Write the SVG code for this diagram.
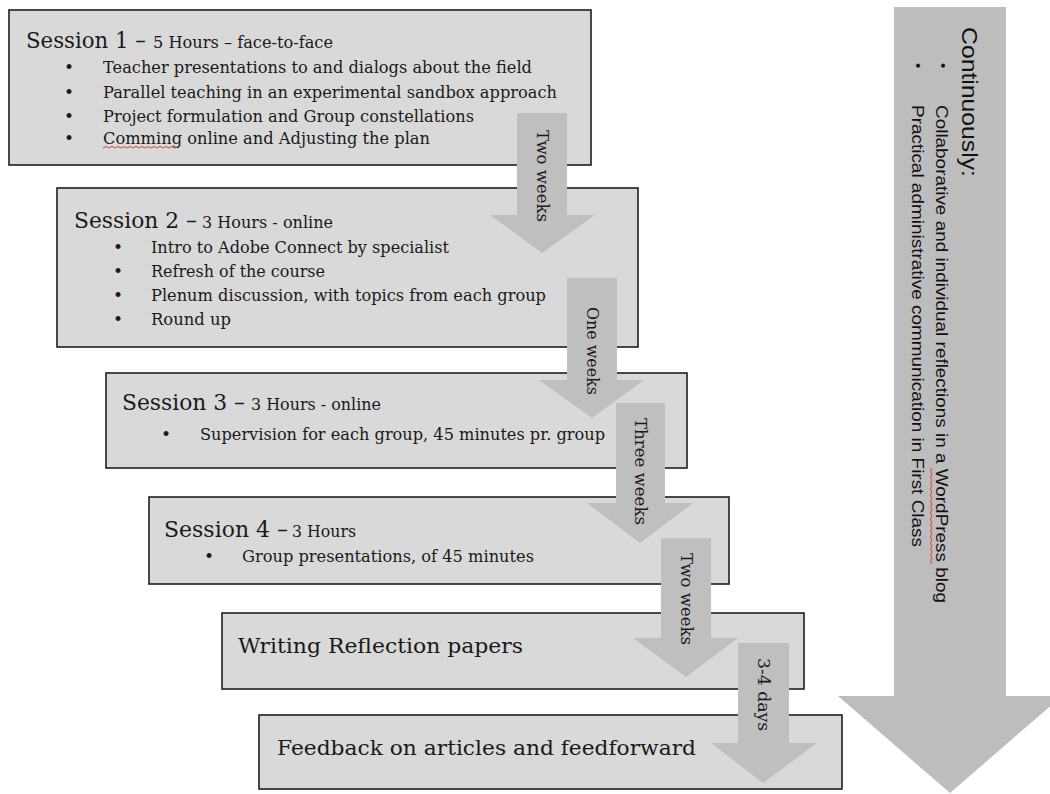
<svg xmlns="http://www.w3.org/2000/svg" width="1050" height="794" viewBox="0 0 1050 794">
<style>
.box{fill:#d9d9d9;stroke:#1f1f1f;stroke-width:1.6}
.arr{fill:#bfbfbf}
.big{fill:#bdbdbd}
.t{font-family:"DejaVu Serif","Liberation Serif",serif;fill:#1a1a1a}
.h1{font-size:23px}
.h2{font-size:17px}
.b{font-size:17px}
.m{font-size:21px}
.lab{font-family:"DejaVu Serif","Liberation Serif",serif;font-size:17px;fill:#1a1a1a}
.s{font-family:"Liberation Sans",Arial,sans-serif;fill:#111}
.sq{fill:none;stroke:#e03030;stroke-width:0.9}
</style>
<rect width="1050" height="794" fill="#ffffff"/>

<g id="continuously">
<polygon class="big" points="894,7 1006,7 1006,696 1062,696 950,793 838,696 894,696"/>
<text class="s" font-size="22" transform="translate(962,27) rotate(90)" textLength="150" lengthAdjust="spacingAndGlyphs">Continuously:</text>
<text class="s" font-size="15" transform="translate(938,63) rotate(90)">•</text>
<text class="s" font-size="15" transform="translate(913,63) rotate(90)">•</text>
<text class="s" font-size="16" transform="translate(936,105) rotate(90)" textLength="498" lengthAdjust="spacingAndGlyphs">Collaborative and individual reflections in a WordPress blog</text>
<text class="s" font-size="16" transform="translate(912,105) rotate(90)" textLength="442" lengthAdjust="spacingAndGlyphs">Practical administrative communication in First Class</text>
<path class="sq" d="M932,468 l-1.5,3 l1.5,3 l-1.5,3 l1.5,3 l-1.5,3 l1.5,3 l-1.5,3 l1.5,3 l-1.5,3 l1.5,3 l-1.5,3 l1.5,3 l-1.5,3 l1.5,3 l-1.5,3 l1.5,3 l-1.5,3 l1.5,3 l-1.5,3 l1.5,3 l-1.5,3 l1.5,3 l-1.5,3 l1.5,3 l-1.5,3 l1.5,3 l-1.5,3 l1.5,3 l-1.5,3 l1.5,3 l-1.5,3 l1.5,3"/>
</g>

<g id="session1">
<rect class="box" x="9" y="10" width="582" height="155"/>
<text class="t h1" x="26" y="48" textLength="120" lengthAdjust="spacingAndGlyphs">Session 1 –</text>
<text class="t h2" x="153" y="48" textLength="180" lengthAdjust="spacingAndGlyphs">5 Hours – face-to-face</text>
<text class="t b" x="64" y="73">•</text>
<text class="t b" x="64" y="98">•</text>
<text class="t b" x="64" y="122">•</text>
<text class="t b" x="64" y="144">•</text>
<text class="t b" x="103" y="73" textLength="429" lengthAdjust="spacingAndGlyphs">Teacher presentations to and dialogs about the field</text>
<text class="t b" x="103" y="98" textLength="454" lengthAdjust="spacingAndGlyphs">Parallel teaching in an experimental sandbox approach</text>
<text class="t b" x="103" y="122" textLength="371" lengthAdjust="spacingAndGlyphs">Project formulation and Group constellations</text>
<text class="t b" x="103" y="144" textLength="327" lengthAdjust="spacingAndGlyphs">Comming online and Adjusting the plan</text>
<path class="sq" d="M103,148 l3,-1.5 l3,1.5 l3,-1.5 l3,1.5 l3,-1.5 l3,1.5 l3,-1.5 l3,1.5 l3,-1.5 l3,1.5 l3,-1.5 l3,1.5 l3,-1.5 l3,1.5 l3,-1.5 l3,1.5 l3,-1.5 l3,1.5 l3,-1.5 l3,1.5 l3,-1.5 l3,1.5 l3,-1.5 l3,1.5 l3,-1.5"/>
</g>

<g id="session2">
<rect class="box" x="57" y="188" width="581" height="159"/>
<text class="t h1" x="74" y="228" textLength="123" lengthAdjust="spacingAndGlyphs">Session 2 –</text>
<text class="t h2" x="202" y="228" textLength="131" lengthAdjust="spacingAndGlyphs">3 Hours - online</text>
<text class="t b" x="113" y="253">•</text>
<text class="t b" x="113" y="277">•</text>
<text class="t b" x="113" y="301">•</text>
<text class="t b" x="113" y="325">•</text>
<text class="t b" x="151" y="253" textLength="298" lengthAdjust="spacingAndGlyphs">Intro to Adobe Connect by specialist</text>
<text class="t b" x="151" y="277" textLength="174" lengthAdjust="spacingAndGlyphs">Refresh of the course</text>
<text class="t b" x="151" y="301" textLength="395" lengthAdjust="spacingAndGlyphs">Plenum discussion, with topics from each group</text>
<text class="t b" x="151" y="325" textLength="80" lengthAdjust="spacingAndGlyphs">Round up</text>
</g>

<g id="session3">
<rect class="box" x="106" y="373" width="581" height="95"/>
<text class="t h1" x="122" y="410" textLength="123" lengthAdjust="spacingAndGlyphs">Session 3 –</text>
<text class="t h2" x="251" y="410" textLength="130" lengthAdjust="spacingAndGlyphs">3 Hours - online</text>
<text class="t b" x="161" y="440">•</text>
<text class="t b" x="200" y="440" textLength="405" lengthAdjust="spacingAndGlyphs">Supervision for each group, 45 minutes pr. group</text>
</g>

<g id="session4">
<rect class="box" x="149" y="497" width="580" height="87"/>
<text class="t h1" x="164" y="537" textLength="124" lengthAdjust="spacingAndGlyphs">Session 4 –</text>
<text class="t h2" x="292" y="537" textLength="64" lengthAdjust="spacingAndGlyphs">3 Hours</text>
<text class="t b" x="204" y="562">•</text>
<text class="t b" x="242" y="562" textLength="292" lengthAdjust="spacingAndGlyphs">Group presentations, of 45 minutes</text>
</g>

<g id="writing">
<rect class="box" x="222" y="613" width="582" height="76"/>
<text class="t m" x="238" y="653" textLength="285" lengthAdjust="spacingAndGlyphs">Writing Reflection papers</text>
</g>

<g id="feedback">
<rect class="box" x="259" y="715" width="583" height="74"/>
<text class="t m" x="277" y="755" textLength="419" lengthAdjust="spacingAndGlyphs">Feedback on articles and feedforward</text>
</g>

<g id="connectors">
<polygon class="arr" points="517,113 567,113 567,215 595,215 542,253 490,215 517,215"/>
<text class="lab" transform="translate(537,130) rotate(90)" textLength="92" lengthAdjust="spacingAndGlyphs">Two weeks</text>
<polygon class="arr" points="567,278 617,278 617,380 644,380 592,418 539,380 567,380"/>
<text class="lab" transform="translate(587,307) rotate(90)" textLength="88" lengthAdjust="spacingAndGlyphs">One weeks</text>
<polygon class="arr" points="616,403 665,403 665,503 693,503 640,543 587,503 616,503"/>
<text class="lab" transform="translate(635,418) rotate(90)" textLength="107" lengthAdjust="spacingAndGlyphs">Three weeks</text>
<polygon class="arr" points="661,538 711,538 711,638 738,638 686,677 633,638 661,638"/>
<text class="lab" transform="translate(681,553) rotate(90)" textLength="92" lengthAdjust="spacingAndGlyphs">Two weeks</text>
<polygon class="arr" points="738,643 789,643 789,743 817,743 763,783 711,743 738,743"/>
<text class="lab" transform="translate(758,658) rotate(90)" textLength="73" lengthAdjust="spacingAndGlyphs">3-4 days</text>
</g>
</svg>
